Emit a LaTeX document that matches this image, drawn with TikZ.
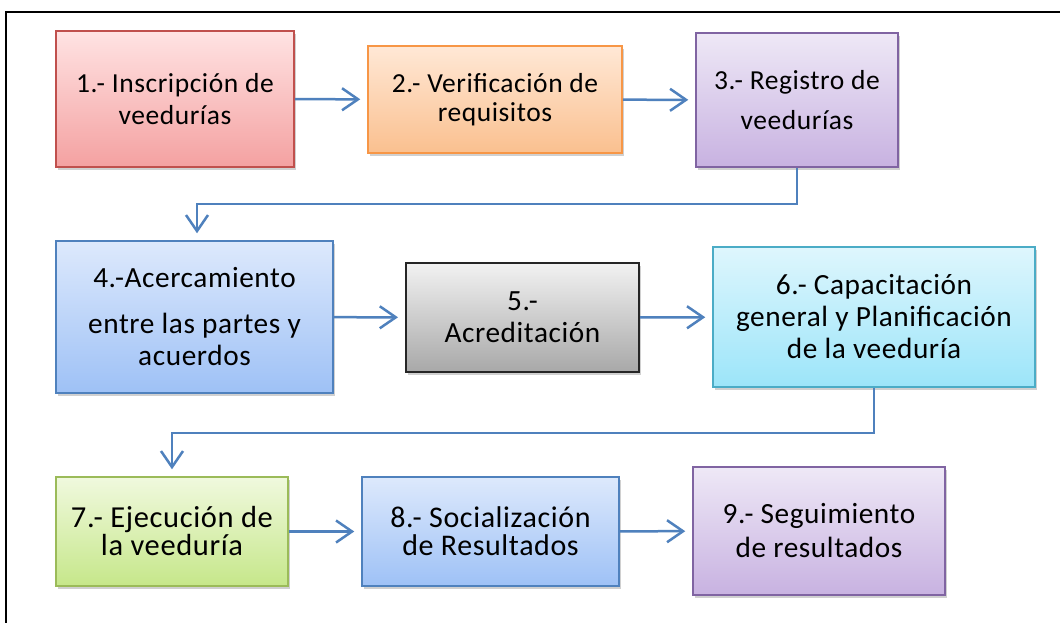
\documentclass[tikz,border=0pt]{standalone}
\usepackage{fontspec}
\setmainfont{Carlito}[LetterSpace=2]
\usetikzlibrary{arrows.meta,shadows,calc}
\definecolor{arrowblue}{HTML}{4F81BD}
\definecolor{redtop}{HTML}{FFE3E3}\definecolor{redbot}{HTML}{F4A1A1}\definecolor{redline}{HTML}{C0504D}
\definecolor{ortop}{HTML}{FFE8D6}\definecolor{orbot}{HTML}{FAC08F}\definecolor{orline}{HTML}{F79646}
\definecolor{putop}{HTML}{EEE8F6}\definecolor{pubot}{HTML}{C8B2E1}\definecolor{puline}{HTML}{8064A2}
\definecolor{bltop}{HTML}{DDE9FC}\definecolor{blbot}{HTML}{9EC1F6}\definecolor{blline}{HTML}{4F81BD}
\definecolor{grtop}{HTML}{F2F2F2}\definecolor{grbot}{HTML}{A8A8A8}\definecolor{grline}{HTML}{262626}
\definecolor{cytop}{HTML}{DEF6FD}\definecolor{cybot}{HTML}{9CE5F9}\definecolor{cyline}{HTML}{4BACC6}
\definecolor{gntop}{HTML}{F0F9DE}\definecolor{gnbot}{HTML}{C6E78A}\definecolor{gnline}{HTML}{9BBB59}
\tikzset{
  box/.style={rectangle, align=center, inner sep=0pt, line width=1.5pt,
    font=\fontsize{29.3}{32}\selectfont,
    drop shadow={shadow xshift=2pt, shadow yshift=-3pt, opacity=0.3, fill=black!60}},
  redbox/.style={box, draw=redline, top color=redtop, bottom color=redbot},
  orbox/.style={box, draw=orline, top color=ortop, bottom color=orbot},
  pubox/.style={box, draw=puline, top color=putop, bottom color=pubot},
  blbox/.style={box, draw=blline, top color=bltop, bottom color=blbot},
  grbox/.style={box, draw=grline, line width=2pt, top color=grtop, bottom color=grbot},
  cybox/.style={box, draw=cyline, top color=cytop, bottom color=cybot},
  gnbox/.style={box, draw=gnline, top color=gntop, bottom color=gnbot},
  conn/.style={draw=arrowblue, line width=2.5pt, shorten >=7pt,
    -{Straight Barb[length=16pt,width=22pt,line width=2.5pt]}},
  frameline/.style={draw=black, line width=2pt}
}
\begin{document}
\begin{tikzpicture}[x=1pt,y=-1pt]
\useasboundingbox (0,0) rectangle (1060,623);
\fill[white] (0,0) rectangle (1060,623);
\draw[frameline] (6,623) -- (6,12) -- (1060,12);

\node[redbox, minimum width=238pt, minimum height=136pt, font=\fontsize{27.5}{32}\selectfont] (n1) at (175,99) {1.- Inscripción de\\veedurías};
\node[orbox, minimum width=254pt, minimum height=107pt, font=\fontsize{27.5}{29}\selectfont] (n2) at (495,99.5) {2.- Verificación de\\requisitos};
\node[pubox, minimum width=202pt, minimum height=134pt, font=\fontsize{27.5}{31}\selectfont] (n3) at (797,100) {3.- Registro de\\[9pt]veedurías};

\node[blbox, minimum width=277pt, minimum height=152pt] (n4) at (194.5,317) {4.-Acercamiento\\[14pt]entre las partes y\\acuerdos};
\node[grbox, minimum width=233pt, minimum height=109pt] (n5) at (522.5,317.5) {5.-\\Acreditación};
\node[cybox, minimum width=322pt, minimum height=140pt] (n6) at (874,317) {6.- Capacitación\\general y Planificación\\de la veeduría};

\node[gnbox, minimum width=232pt, minimum height=109pt, font=\fontsize{30.5}{28}\selectfont] (n7) at (172,531.5) {7.- Ejecución de\\la veeduría};
\node[blbox, minimum width=257pt, minimum height=109pt, font=\fontsize{30}{28}\selectfont] (n8) at (490.5,531.5) {8.- Socialización\\de Resultados};
\node[pubox, minimum width=252pt, minimum height=128pt, font=\fontsize{29.3}{34}\selectfont] (n9) at (819,531) {9.- Seguimiento\\de resultados};

\draw[conn] (n1) -- (n2);
\draw[conn] (n2) -- (n3);
\coordinate (k1) at ($(n3.south)+(0,36)$);
\draw[conn] (n3.south) -- (k1) -| ([xshift=2.5pt]n4.north);
\draw[conn] (n4) -- (n5);
\draw[conn] (n5) -- (n6);
\coordinate (k2) at ($(n6.south)+(0,45)$);
\draw[conn] (n6.south) -- (k2) -| (n7.north);
\draw[conn] (n7) -- (n8);
\draw[conn] (n8) -- (n9);
\end{tikzpicture}
\end{document}
